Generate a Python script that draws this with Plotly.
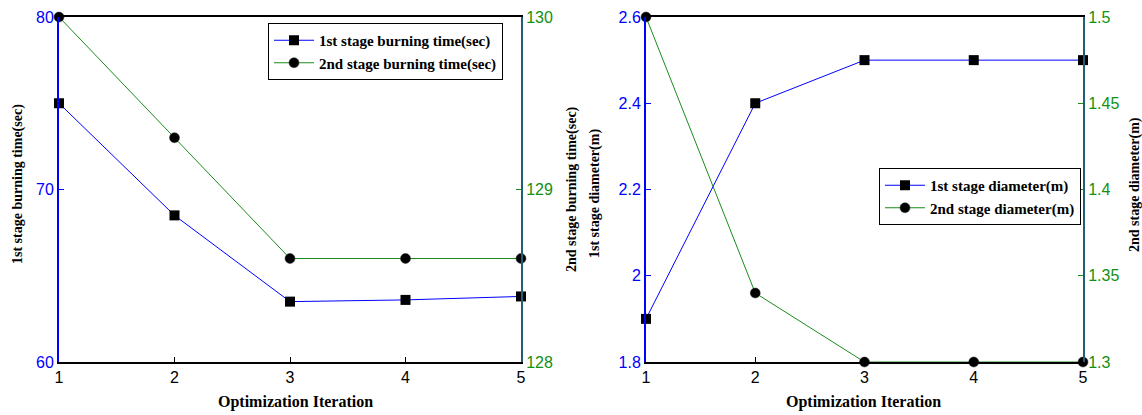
import plotly.graph_objects as go

iterations = [1, 2, 3, 4, 5]
burn_time_1st = [75.0, 68.5, 63.5, 63.6, 63.8]
burn_time_2nd = [130.0, 129.3, 128.6, 128.6, 128.6]
diameter_1st = [1.9, 2.4, 2.5, 2.5, 2.5]
diameter_2nd = [1.5, 1.34, 1.3, 1.3, 1.3]

x_ticks = [1, 2, 3, 4, 5]
burn1_ticks = [60, 70, 80]
burn2_ticks = [128, 129, 130]
dia1_ticks = [1.8, 2.0, 2.2, 2.4, 2.6]
dia1_text = ["1.8", "2", "2.2", "2.4", "2.6"]
dia2_ticks = [1.3, 1.35, 1.4, 1.45, 1.5]
dia2_text = ["1.3", "1.35", "1.4", "1.45", "1.5"]

BLUE = "#0000ff"
GREEN = "#1a8c1a"
GREEN_TXT = "#129112"
TEAL = "#215e78"
SERIF = "Liberation Serif"
SANS = "Liberation Sans"

W, H = 1142, 415
def px_x(p):
    return p / W
def px_y(p):
    return 1 - p / H

fig = go.Figure()

fig.add_trace(go.Scatter(x=iterations, y=burn_time_1st, mode="lines+markers",
                         name="1st stage burning time(sec)", xaxis="x", yaxis="y",
                         line=dict(color=BLUE, width=1),
                         marker=dict(symbol="square", size=10, color="black"),
                         cliponaxis=False, legend="legend"))
fig.add_trace(go.Scatter(x=iterations, y=burn_time_2nd, mode="lines+markers",
                         name="2nd stage burning time(sec)", xaxis="x", yaxis="y2",
                         line=dict(color=GREEN, width=1),
                         marker=dict(symbol="circle", size=10, color="black",
                                     line=dict(color="#333", width=0.5)),
                         cliponaxis=False, legend="legend"))
fig.add_trace(go.Scatter(x=iterations, y=diameter_1st, mode="lines+markers",
                         name="1st stage diameter(m)", xaxis="x2", yaxis="y3",
                         line=dict(color=BLUE, width=1),
                         marker=dict(symbol="square", size=10, color="black"),
                         cliponaxis=False, legend="legend2"))
fig.add_trace(go.Scatter(x=iterations, y=diameter_2nd, mode="lines+markers",
                         name="2nd stage diameter(m)", xaxis="x2", yaxis="y4",
                         line=dict(color=GREEN, width=1),
                         marker=dict(symbol="circle", size=10, color="black",
                                     line=dict(color="#333", width=0.5)),
                         cliponaxis=False, legend="legend2"))

ydom = [px_y(362), px_y(17)]
tickfont_x = dict(family=SANS, size=16, color="black")

xcommon = dict(range=[1, 5], tickvals=x_ticks, showgrid=False, zeroline=False,
               showline=True, linecolor="black", linewidth=2, mirror=True,
               ticks="inside", ticklen=5, tickcolor="black", tickfont=tickfont_x,
               automargin=False)

fig.update_layout(
    width=W, height=H,
    margin=dict(l=0, r=0, t=0, b=0, autoexpand=False),
    paper_bgcolor="white", plot_bgcolor="white",
    showlegend=True,
    xaxis=dict(domain=[px_x(59), px_x(521)], anchor="y", **xcommon),
    yaxis=dict(domain=ydom, range=[60, 80], tickvals=burn1_ticks, anchor="x",
               showgrid=False, zeroline=False, showline=True, linecolor=BLUE, linewidth=2,
               ticks="inside", ticklen=5, tickcolor=BLUE, automargin=False,
               tickfont=dict(family=SANS, size=16, color=BLUE)),
    yaxis2=dict(range=[128, 130], tickvals=burn2_ticks, overlaying="y", side="right",
                anchor="x", showgrid=False, zeroline=False, showline=True,
                linecolor=TEAL, linewidth=2, ticks="inside", ticklen=5, tickcolor=GREEN,
                automargin=False,
                tickfont=dict(family=SANS, size=16, color=GREEN_TXT)),
    xaxis2=dict(domain=[px_x(646), px_x(1083)], anchor="y3", **xcommon),
    yaxis3=dict(domain=ydom, range=[1.8, 2.6], tickvals=dia1_ticks, ticktext=dia1_text,
                anchor="x2", showgrid=False, zeroline=False, showline=True,
                linecolor=BLUE, linewidth=2, ticks="inside", ticklen=5, tickcolor=BLUE,
                automargin=False,
                tickfont=dict(family=SANS, size=16, color=BLUE)),
    yaxis4=dict(range=[1.3, 1.5], tickvals=dia2_ticks, ticktext=dia2_text,
                overlaying="y3", side="right", anchor="x2", showgrid=False,
                zeroline=False, showline=True, linecolor=TEAL, linewidth=2,
                ticks="inside", ticklen=5, tickcolor=GREEN, automargin=False,
                tickfont=dict(family=SANS, size=16, color=GREEN_TXT)),
    legend=dict(x=px_x(268), y=px_y(23), xanchor="left", yanchor="top",
                bgcolor="white", bordercolor="black", borderwidth=1,
                font=dict(family=SERIF, size=15, color="black", weight="bold"),
                tracegroupgap=0, itemwidth=40),
    legend2=dict(x=px_x(879), y=px_y(168), xanchor="left", yanchor="top",
                 bgcolor="white", bordercolor="black", borderwidth=1,
                 font=dict(family=SERIF, size=15, color="black", weight="bold"),
                 tracegroupgap=0, itemwidth=40),
)

title_font = dict(family=SERIF, size=14, color="black", weight="bold")
xtitle_font = dict(family=SERIF, size=16, color="black", weight="bold")
annos = [
    dict(text="Optimization Iteration", x=px_x(296), y=px_y(402), font=xtitle_font, textangle=0),
    dict(text="Optimization Iteration", x=px_x(863), y=px_y(402), font=xtitle_font, textangle=0),
    dict(text="1st stage burning time(sec)", x=px_x(18), y=px_y(184), font=title_font, textangle=-90),
    dict(text="2nd stage burning time(sec)", x=px_x(572), y=px_y(189), font=title_font, textangle=-90),
    dict(text="1st stage diameter(m)", x=px_x(595), y=px_y(194), font=title_font, textangle=-90),
    dict(text="2nd stage diameter(m)", x=px_x(1135), y=px_y(185), font=title_font, textangle=-90),
]
for a in annos:
    fig.add_annotation(xref="paper", yref="paper", showarrow=False,
                       xanchor="center", yanchor="middle", **a)

fig.write_html("out.html")
